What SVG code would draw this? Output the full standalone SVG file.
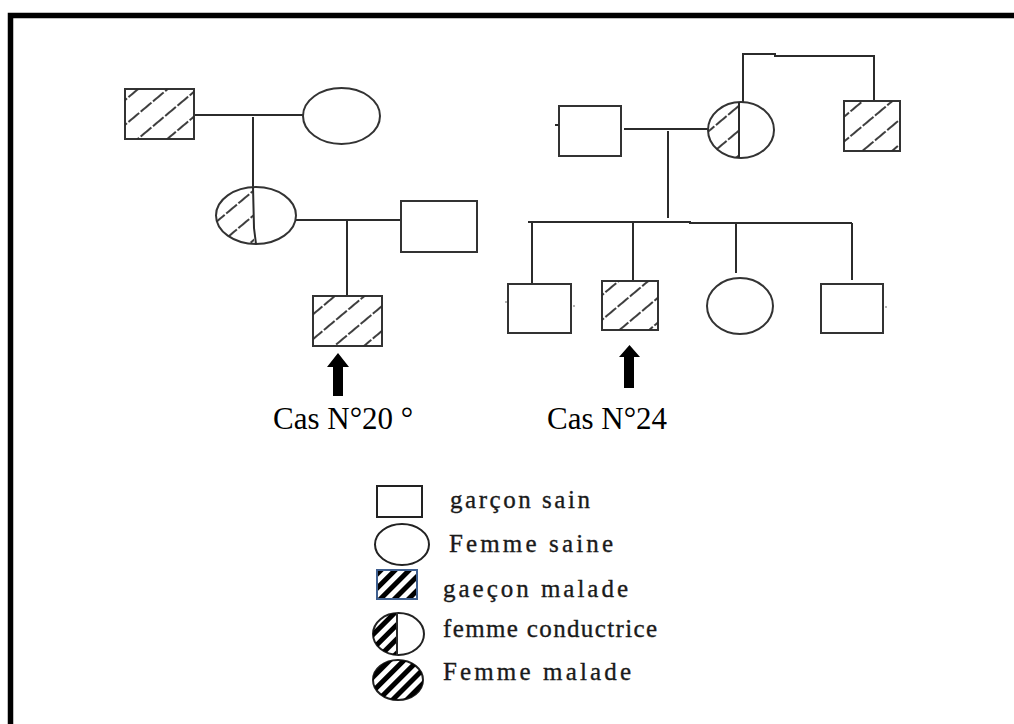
<svg xmlns="http://www.w3.org/2000/svg" width="1014" height="724" viewBox="0 0 1014 724">
<style>
.ln{stroke:#2b2b2b;stroke-width:2;fill:none}
.nd{stroke:#333;stroke-width:2;fill:#fff}
.sym{stroke:#222;stroke-width:2;fill:#fff}
.cap{font-family:"Liberation Serif","Times New Roman",serif;font-size:31px;fill:#000}
.lg{font-family:"Liberation Serif","Times New Roman",serif;font-size:25px;fill:#1a1a1a;stroke:#1a1a1a;stroke-width:0.35}
.arrow{fill:#000}
</style>
<defs>
<pattern id="hatch" patternUnits="userSpaceOnUse" width="19" height="16" patternTransform="rotate(50)">
<line x1="5" y1="-2" x2="5" y2="18" stroke="#2a2a2a" stroke-width="1.8" stroke-dasharray="14 2"/>
</pattern>
<pattern id="hatchThick" patternUnits="userSpaceOnUse" width="10" height="10" patternTransform="rotate(45)">
<rect x="0" y="0" width="5" height="10" fill="#000"/>
</pattern>
<clipPath id="cL"><rect x="200" y="180" width="54" height="70"/></clipPath>
<clipPath id="cR"><rect x="700" y="95" width="39" height="70"/></clipPath>
<clipPath id="cLg"><rect x="365" y="605" width="32" height="55"/></clipPath>
</defs>

<path d="M10.5 724 V15.5 H1014" fill="none" stroke="#000" stroke-width="5.5"/>

<g id="connectors">
<line class="ln" x1="194" y1="115" x2="303" y2="115"/>
<line class="ln" x1="253" y1="117" x2="253" y2="187"/>
<line class="ln" x1="296" y1="220" x2="401" y2="220"/>
<line class="ln" x1="347" y1="220" x2="347" y2="296"/>
<line class="ln" x1="624" y1="129" x2="708" y2="129"/>
<line class="ln" x1="668" y1="131" x2="668" y2="218"/>
<polyline class="ln" points="528,222 690,222 690,223 852,223"/>
<line class="ln" x1="532" y1="222" x2="532" y2="284"/>
<line class="ln" x1="633" y1="222" x2="633" y2="281"/>
<line class="ln" x1="736" y1="223" x2="736" y2="273"/>
<line class="ln" x1="852" y1="223" x2="852" y2="280"/>
<polyline class="ln" points="743,102 743,54 775,54 775,56 842,56 842,56 874,56 874,101"/>
</g>

<g id="n1"><rect class="nd" x="125" y="89" width="69" height="50"/><rect x="125" y="89" width="69" height="50" fill="url(#hatch)"/></g>
<g id="n2"><ellipse class="nd" cx="341.5" cy="116" rx="38.5" ry="28"/></g>
<g id="n3"><ellipse class="nd" cx="256" cy="215.5" rx="40" ry="28.5"/><ellipse cx="256" cy="215.5" rx="40" ry="28.5" fill="url(#hatch)" clip-path="url(#cL)"/><path class="ln" d="M253 187 L254 228 L256 244"/></g>
<g id="n4"><rect class="nd" x="401" y="201" width="76" height="51"/></g>
<g id="n5"><rect class="nd" x="313" y="296" width="69" height="50"/><rect x="313" y="296" width="69" height="50" fill="url(#hatch)"/></g>
<g id="arrow1"><polygon class="arrow" points="327,367 338,353 349,367 343,367 343,396 333,396 333,367"/></g>
<text class="cap" x="273" y="429">Cas N°20 °</text>

<g id="n6"><rect class="nd" x="559" y="106" width="62" height="50"/><line class="ln" x1="555" y1="125" x2="559" y2="125" stroke-width="1"/></g>
<g id="n7"><ellipse class="nd" cx="741" cy="130" rx="33" ry="28"/><ellipse cx="741" cy="130" rx="33" ry="28" fill="url(#hatch)" clip-path="url(#cR)"/><line class="ln" x1="739" y1="102" x2="739" y2="158"/></g>
<g id="n8"><rect class="nd" x="844" y="101" width="56" height="50"/><rect x="844" y="101" width="56" height="50" fill="url(#hatch)"/></g>
<g id="n9"><rect class="nd" x="508" y="284" width="63" height="49"/><circle cx="506" cy="302" r="0.8" fill="#555"/><circle cx="574" cy="306" r="0.8" fill="#555"/></g>
<g id="n10"><rect class="nd" x="602" y="281" width="56" height="49"/><rect x="602" y="281" width="56" height="49" fill="url(#hatch)"/></g>
<g id="n11"><ellipse class="nd" cx="740" cy="306" rx="33" ry="28"/></g>
<g id="n12"><rect class="nd" x="821" y="284" width="62" height="49"/><circle cx="886" cy="307" r="0.8" fill="#555"/></g>
<g id="arrow2"><polygon class="arrow" points="619,357 629.5,345 640,357 634,357 634,388 624,388 624,357"/></g>
<text class="cap" x="547" y="429">Cas N°24</text>

<g id="legend">
<rect class="sym" x="377" y="486" width="45" height="31"/>
<text class="lg" x="450" y="508" textLength="140" lengthAdjust="spacing">garçon sain</text>
<ellipse class="sym" cx="402" cy="544.5" rx="27" ry="20.5"/>
<text class="lg" x="449" y="552" textLength="164" lengthAdjust="spacing">Femme saine</text>
<rect x="377" y="570" width="40" height="29" fill="#fff" stroke="#3f5f8f" stroke-width="2"/>
<rect x="378" y="571" width="38" height="27" fill="url(#hatchThick)"/>
<text class="lg" x="443" y="597" textLength="185" lengthAdjust="spacing">gaeçon malade</text>
<ellipse class="sym" cx="398.5" cy="634" rx="25.5" ry="21"/>
<ellipse cx="398.5" cy="634" rx="25.5" ry="21" fill="url(#hatchThick)" clip-path="url(#cLg)"/>
<line class="ln" x1="397" y1="613" x2="397" y2="655"/>
<text class="lg" x="443" y="637" textLength="214" lengthAdjust="spacing">femme conductrice</text>
<ellipse class="sym" cx="398" cy="680" rx="25" ry="20"/>
<ellipse cx="398" cy="680" rx="25" ry="20" fill="url(#hatchThick)"/>
<text class="lg" x="443" y="680" textLength="188" lengthAdjust="spacing">Femme malade</text>
</g>
</svg>
